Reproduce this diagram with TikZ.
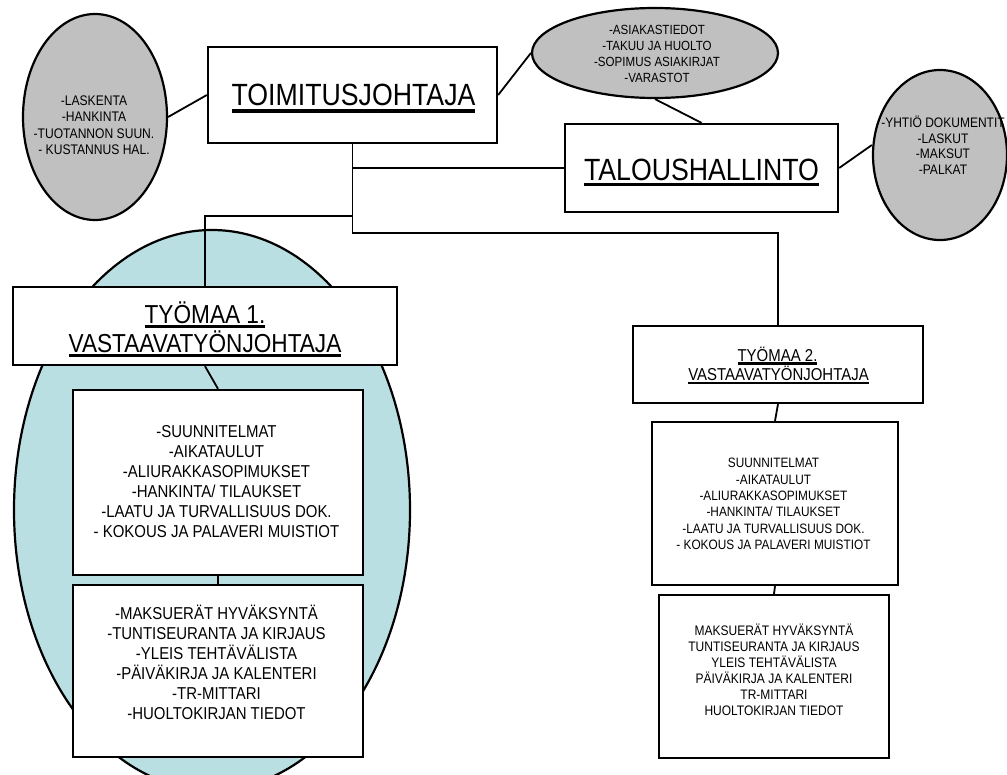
\documentclass[tikz,border=0pt]{standalone}
\usepackage{fontspec}
\setmainfont{Liberation Sans}[FakeStretch=0.87]
\usetikzlibrary{shapes.geometric}

\definecolor{bubblegrey}{RGB}{192,192,192}
\definecolor{sitefill}{RGB}{185,223,227}

% underlined title text: #1 gap below baseline, #2 rule thickness, #3 text
\newcommand\ulined[3]{\vtop{\hbox{#3}\kern#1\hrule height #2\relax}}
\newcommand\fTitle{\fontsize{30.7}{36}\selectfont}
\newcommand\fSite{\fontsize{26}{31}\selectfont}
\newcommand\fMid{\fontsize{17.2}{20}\selectfont}
\newcommand\fSiteTwo{\fontsize{17.2}{22}\selectfont}

\tikzset{
  box/.style={draw, line width=2.3pt, fill=white, inner sep=0pt},
  bubble/.style={draw, ellipse, line width=2.2pt, fill=bubblegrey, inner sep=0pt},
  conn/.style={line width=1.8pt},
  list/.style={align=center, inner sep=0pt},
  title/.style={anchor=base, inner sep=0pt},
}

\begin{document}
\begin{tikzpicture}[x=1pt, y=-1pt]
\useasboundingbox (0,0) rectangle (1007,774);

% work site 1 background
\node[draw, ellipse, line width=2.2pt, fill=sitefill, inner sep=0pt,
      minimum width=396, minimum height=560] (site) at (212,510) {};

% information bubbles
\node[bubble, minimum width=144, minimum height=206] (lell) at (95,117) {};
\node[bubble, minimum width=246, minimum height=90] (tell) at (655,53) {};
\node[bubble, minimum width=134, minimum height=170] (rell) at (940,155) {};

% junctions of the organisation tree
\coordinate (jT) at (352.5,168);
\coordinate (jL) at (352.5,216);
\coordinate (jR) at (352.5,233);

% boxes
\node[box, minimum width=289, minimum height=96] (toim) at (352.5,95) {};
\node[box, minimum width=273, minimum height=88] (talous) at (701.5,168) {};
\node[box, minimum width=384, minimum height=78] (ty1) at (205,326) {};
\node[box, minimum width=290, minimum height=185] (boxA) at (218,482.5) {};
\node[box, minimum width=290, minimum height=172] (boxB) at (218,671) {};
\node[box, minimum width=290, minimum height=77] (ty2) at (778,364.5) {};
\node[box, minimum width=246, minimum height=163] (boxC) at (775,503.5) {};
\node[box, minimum width=230, minimum height=163] (boxD) at (774,676.5) {};

% connectors
\draw[conn] (toim.south) -- (jR) -| (ty2.north);
\draw[conn] (jT) -- (talous.west);
\draw[conn] (jL) -| (ty1.north);
\draw[conn] (lell.east) -- (toim.west);
\draw[conn] (toim.east) -- (tell.west);
\draw[conn] (tell.south) -- (talous.north);
\draw[conn] (talous.east) -- ([yshift=10pt]rell.west);
\draw[conn] (ty1.south) -- (boxA.north);
\draw[conn] (boxA.south) -- (boxB.north);
\draw[conn] (ty2.south) -- (boxC.north);
\draw[conn] (boxC.south) -- (boxD.north);

% titles
\node[title, font=\fTitle] (tToim) at (353.5,105) {\ulined{4pt}{3.2pt}{TOIMITUSJOHTAJA}};
\node[title, font=\fTitle] (tTal) at (701.5,180) {\ulined{2.5pt}{3.6pt}{TALOUSHALLINTO}};
\node[title, font=\fSite] (tS1a) at (205,323) {\ulined{1.5pt}{3.3pt}{TYÖMAA 1.}};
\node[title, font=\fSite] (tS1b) at (205,352) {\ulined{1.5pt}{3.3pt}{VASTAAVATYÖNJOHTAJA}};
\node[title, font=\fSiteTwo] (tS2a) at (777.5,361) {\ulined{1pt}{2.6pt}{TYÖMAA 2.}};
\node[title, font=\fSiteTwo] (tS2b) at (778.5,380) {\ulined{1.5pt}{2.6pt}{VASTAAVATYÖNJOHTAJA}};

% bubble contents
\node[list, font=\fontsize{13.9}{16.5}\selectfont] (lLeft) at (94,125)
  {-LASKENTA\\-HANKINTA\\-TUOTANNON SUUN.\\- KUSTANNUS HAL.};
\node[list, font=\fontsize{13.3}{16}\selectfont] (lTop) at (657,54)
  {-ASIAKASTIEDOT\\-TAKUU JA HUOLTO\\-SOPIMUS ASIAKIRJAT\\-VARASTOT};
\node[list, font=\fontsize{13.8}{15.5}\selectfont] (lRight) at (943,145)
  {-YHTIÖ DOKUMENTIT\\-LASKUT\\-MAKSUT\\-PALKAT};

% work site 1 lists
\node[list, font=\fMid] (lA) at (216.5,482)
  {-SUUNNITELMAT\\-AIKATAULUT\\-ALIURAKKASOPIMUKSET\\-HANKINTA/ TILAUKSET\\-LAATU JA TURVALLISUUS DOK.\\- KOKOUS JA PALAVERI MUISTIOT};
\node[list, font=\fMid] (lB) at (216.5,662)
  {-MAKSUERÄT HYVÄKSYNTÄ\\-TUNTISEURANTA JA KIRJAUS\\-YLEIS TEHTÄVÄLISTA\\-PÄIVÄKIRJA JA KALENTERI\\-TR-MITTARI\\-HUOLTOKIRJAN TIEDOT};

% work site 2 lists
\node[list, font=\fontsize{13.6}{16.4}\selectfont] (lC) at (773.5,504)
  {SUUNNITELMAT\\-AIKATAULUT\\-ALIURAKKASOPIMUKSET\\-HANKINTA/ TILAUKSET\\-LAATU JA TURVALLISUUS DOK.\\- KOKOUS JA PALAVERI MUISTIOT};
\node[list, font=\fontsize{13.8}{16}\selectfont] (lD) at (774,670)
  {MAKSUERÄT HYVÄKSYNTÄ\\TUNTISEURANTA JA KIRJAUS\\YLEIS TEHTÄVÄLISTA\\PÄIVÄKIRJA JA KALENTERI\\TR-MITTARI\\HUOLTOKIRJAN TIEDOT};
\end{tikzpicture}
\end{document}
